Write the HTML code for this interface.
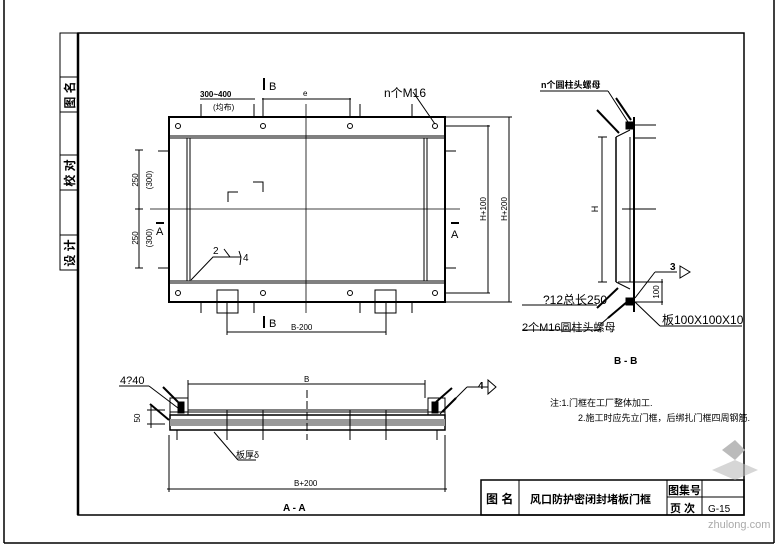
<!DOCTYPE html>
<html><head><meta charset="utf-8"><style>
html,body{margin:0;padding:0;background:#fff}
svg{display:block}
text{font-family:"Liberation Sans","Noto Sans CJK SC",sans-serif;fill:#000}
</style></head><body>
<svg width="780" height="550" viewBox="0 0 780 550" xmlns="http://www.w3.org/2000/svg" stroke="#000" fill="none">
<line x1="4" y1="0" x2="4" y2="543" stroke-width="1.5"/>
<line x1="4" y1="543" x2="774" y2="543" stroke-width="1.5"/>
<line x1="774" y1="0" x2="774" y2="543" stroke-width="1.5"/>
<rect x="78" y="33" width="666" height="482" stroke-width="1.5"/>
<line x1="78" y1="33" x2="78" y2="515" stroke-width="2.5"/>
<rect x="60" y="33" width="18" height="237" stroke-width="1"/>
<line x1="60" y1="77" x2="78" y2="77"/><line x1="60" y1="112" x2="78" y2="112"/>
<line x1="60" y1="155" x2="78" y2="155"/><line x1="60" y1="190" x2="78" y2="190"/>
<line x1="60" y1="235" x2="78" y2="235"/>
<g stroke="none" font-size="12" font-weight="bold">
<text transform="translate(74,95) rotate(-90)" text-anchor="middle">图 名</text>
<text transform="translate(74,173) rotate(-90)" text-anchor="middle">校 对</text>
<text transform="translate(74,253) rotate(-90)" text-anchor="middle">设 计</text>
</g>

<rect x="169" y="117" width="276" height="185" stroke-width="2"/>
<line x1="169" y1="136" x2="445" y2="136"/><line x1="169" y1="138" x2="445" y2="138"/>
<line x1="169" y1="281" x2="445" y2="281"/><line x1="169" y1="283" x2="445" y2="283"/>
<line x1="187" y1="138" x2="187" y2="281"/><line x1="190" y1="138" x2="190" y2="281"/>
<line x1="424" y1="138" x2="424" y2="281"/><line x1="427" y1="138" x2="427" y2="281"/>
<line x1="306" y1="104" x2="306" y2="313" stroke-width="0.8"/>
<line x1="150" y1="209" x2="460" y2="209" stroke-width="0.8"/>
<g stroke-width="1">
<circle cx="178" cy="126" r="2.5"/><circle cx="263" cy="126" r="2.5"/><circle cx="350" cy="126" r="2.5"/><circle cx="435" cy="126" r="2.5"/>
<circle cx="178" cy="293" r="2.5"/><circle cx="263" cy="293" r="2.5"/><circle cx="350" cy="293" r="2.5"/><circle cx="435" cy="293" r="2.5"/>
</g>
<rect x="217" y="290" width="21" height="23"/><rect x="375" y="290" width="21" height="23"/>
<g>
<line x1="201" y1="104" x2="201" y2="116"/><line x1="254" y1="104" x2="254" y2="116"/><line x1="263" y1="98" x2="263" y2="116"/><line x1="350" y1="98" x2="350" y2="116"/><line x1="360" y1="104" x2="360" y2="116"/><line x1="412" y1="104" x2="412" y2="116"/>
<line x1="201" y1="302" x2="201" y2="313"/><line x1="254" y1="302" x2="254" y2="313"/><line x1="360" y1="302" x2="360" y2="313"/><line x1="412" y1="302" x2="412" y2="313"/>
<line x1="158" y1="151" x2="169" y2="151"/><line x1="158" y1="268" x2="169" y2="268"/>
<line x1="445" y1="151" x2="456" y2="151"/><line x1="445" y1="268" x2="456" y2="268"/>
<line x1="445" y1="117" x2="512" y2="117"/><line x1="445" y1="302" x2="512" y2="302"/>
<line x1="445" y1="126" x2="490" y2="126"/><line x1="445" y1="293" x2="490" y2="293"/>
</g>
<line x1="200" y1="99" x2="255" y2="99"/>
<line x1="262" y1="99" x2="351" y2="99"/>
<line x1="139" y1="150" x2="139" y2="268"/>
<line x1="135" y1="150" x2="143" y2="150"/><line x1="135" y1="209" x2="143" y2="209"/><line x1="135" y1="268" x2="143" y2="268"/>
<line x1="227" y1="332" x2="386" y2="332"/>
<line x1="227" y1="302" x2="227" y2="335"/><line x1="386" y1="302" x2="386" y2="335"/>
<line x1="488" y1="125" x2="488" y2="293"/><line x1="509" y1="117" x2="509" y2="302"/>
<line x1="264" y1="78" x2="264" y2="90" stroke-width="2"/><line x1="264" y1="316" x2="264" y2="328" stroke-width="2"/>
<line x1="156" y1="223" x2="164" y2="223" stroke-width="2"/><line x1="451" y1="223" x2="459" y2="223" stroke-width="2"/>
<polyline points="228,202 228,192 238,192"/><polyline points="253,182 263,182 263,192" />
<polyline points="191,280 213,257 241,257"/><polyline points="224,249 230,257 224,257"/>
<polyline points="239,251 241,257 240,265"/>
<line x1="413" y1="92" x2="435" y2="124"/>
<g stroke="none">
<text x="200" y="97" font-size="8" font-weight="bold">300~400</text>
<text x="213" y="110" font-size="8">(均布)</text>
<text x="269" y="90" font-size="11">B</text>
<text x="269" y="327" font-size="11">B</text>
<text x="303" y="96" font-size="8">e</text>
<text x="384" y="97" font-size="12">n个M16</text>
<text x="291" y="330" font-size="8">B-200</text>
<text x="156" y="235" font-size="11">A</text>
<text x="451" y="238" font-size="11">A</text>
<text x="213" y="254" font-size="10">2</text>
<text x="243" y="261" font-size="10">4</text>
<text transform="translate(138,180) rotate(-90)" font-size="8" text-anchor="middle">250</text>
<text transform="translate(152,180) rotate(-90)" font-size="8" text-anchor="middle">(300)</text>
<text transform="translate(138,238) rotate(-90)" font-size="8" text-anchor="middle">250</text>
<text transform="translate(152,238) rotate(-90)" font-size="8" text-anchor="middle">(300)</text>
<text transform="translate(486,209) rotate(-90)" font-size="8" text-anchor="middle">H+100</text>
<text transform="translate(507,209) rotate(-90)" font-size="8" text-anchor="middle">H+200</text>
</g>

<line x1="634" y1="117" x2="634" y2="312" stroke-width="2"/>
<line x1="616" y1="137" x2="616" y2="282" stroke-width="1.5"/>
<line x1="630" y1="137" x2="630" y2="282"/>
<line x1="616" y1="137" x2="630" y2="130"/><line x1="616" y1="282" x2="630" y2="289"/>
<rect x="626" y="122" width="7" height="7" fill="#000"/><rect x="626" y="298" width="7" height="7" fill="#000"/>
<line x1="634" y1="125" x2="656" y2="125"/><line x1="634" y1="138" x2="656" y2="138"/>
<line x1="622" y1="209" x2="656" y2="209"/>
<line x1="602" y1="137" x2="602" y2="282"/><line x1="598" y1="137" x2="607" y2="137"/><line x1="598" y1="282" x2="607" y2="282"/>
<line x1="618" y1="282" x2="663" y2="282"/><line x1="634" y1="302" x2="663" y2="302"/><line x1="662" y1="279" x2="662" y2="305"/>
<line x1="608" y1="91" x2="628" y2="122" stroke-width="1"/>
<line x1="616" y1="98" x2="631" y2="120" stroke-width="2"/>
<line x1="597" y1="110" x2="619" y2="133" stroke-width="2"/>
<line x1="597" y1="308" x2="618" y2="288" stroke-width="2"/>
<line x1="608" y1="318" x2="627" y2="302" stroke-width="2"/>
<line x1="601" y1="324" x2="625" y2="303"/>
<line x1="635" y1="298" x2="655" y2="272"/><line x1="655" y1="272" x2="677" y2="272"/>
<polygon points="680,266 690,272 680,278"/>
<line x1="635" y1="302" x2="660" y2="326"/><line x1="660" y1="326" x2="742" y2="326"/>
<line x1="540" y1="91" x2="608" y2="91"/><line x1="522" y1="305" x2="597" y2="305"/><line x1="522" y1="330" x2="601" y2="330"/>
<g stroke="none">
<text x="541" y="88" font-size="9" font-weight="bold">n个圆柱头螺母</text>
<text transform="translate(598,209) rotate(-90)" font-size="9" text-anchor="middle">H</text>
<text x="670" y="270" font-size="10" font-weight="bold">3</text>
<text transform="translate(659,292) rotate(-90)" font-size="8" text-anchor="middle">100</text>
<text x="543" y="304" font-size="12">?12总长250</text>
<text x="522" y="331" font-size="11">2个M16圆柱头螺母</text>
<text x="662" y="324" font-size="12">板100X100X10</text>
<text x="614" y="364" font-size="10" font-weight="bold">B - B</text>
</g>

<rect x="170" y="415" width="275" height="15" stroke-width="1.5"/>
<rect x="170" y="419" width="275" height="7" fill="#999" stroke="none"/>
<line x1="170" y1="412" x2="445" y2="412"/>
<line x1="188" y1="415" x2="188" y2="398" /><line x1="428" y1="415" x2="428" y2="398"/>
<line x1="188" y1="410" x2="428" y2="410"/>
<rect x="170" y="398" width="18" height="17"/><rect x="428" y="398" width="17" height="17"/>
<rect x="178" y="402" width="6" height="11" fill="#000"/><rect x="432" y="402" width="6" height="11" fill="#000"/>
<line x1="307" y1="390" x2="307" y2="440" stroke-dasharray="8,3"/>
<line x1="177" y1="430" x2="177" y2="440"/><line x1="227" y1="410" x2="227" y2="440"/><line x1="263" y1="410" x2="263" y2="440"/><line x1="350" y1="410" x2="350" y2="440"/><line x1="386" y1="410" x2="386" y2="440"/><line x1="437" y1="430" x2="437" y2="440"/>
<line x1="188" y1="384" x2="425" y2="384"/><line x1="188" y1="380" x2="188" y2="398"/><line x1="425" y1="380" x2="425" y2="398"/>
<line x1="167" y1="489" x2="447" y2="489"/><line x1="169" y1="435" x2="169" y2="492"/><line x1="445" y1="435" x2="445" y2="492"/>
<line x1="147" y1="410" x2="165" y2="410"/><line x1="147" y1="424" x2="165" y2="424"/><line x1="151" y1="405" x2="151" y2="428"/>
<line x1="119" y1="386" x2="149" y2="386"/><line x1="149" y1="386" x2="178" y2="408"/>
<line x1="163" y1="387" x2="178" y2="402" stroke-width="2"/><line x1="150" y1="404" x2="169" y2="420" stroke-width="2"/>
<line x1="452" y1="388" x2="436" y2="402" stroke-width="2"/><line x1="456" y1="398" x2="442" y2="412" stroke-width="2"/>
<line x1="440" y1="414" x2="467" y2="387"/><line x1="467" y1="387" x2="488" y2="387"/><polygon points="488,380 496,387 488,394"/>
<line x1="214" y1="432" x2="238" y2="460"/><line x1="238" y1="460" x2="256" y2="460"/>
<g stroke="none">
<text x="120" y="384" font-size="11">4?40</text>
<text x="304" y="382" font-size="8">B</text>
<text transform="translate(140,418) rotate(-90)" font-size="8" text-anchor="middle">50</text>
<text x="236" y="458" font-size="9">板厚δ</text>
<text x="294" y="486" font-size="8">B+200</text>
<text x="283" y="511" font-size="10" font-weight="bold">A - A</text>
<text x="478" y="389" font-size="10" font-weight="bold">4</text>
<text x="550" y="406" font-size="9">注:1.门框在工厂整体加工.</text>
<text x="578" y="421" font-size="9">2.施工时应先立门框，后绑扎门框四周钢筋.</text>
</g>

<rect x="481" y="480" width="263" height="35" stroke-width="1.5"/>
<line x1="519" y1="480" x2="519" y2="515"/><line x1="667" y1="480" x2="667" y2="515"/><line x1="702" y1="480" x2="702" y2="515"/>
<line x1="667" y1="497" x2="744" y2="497"/>
<g stroke="none" font-weight="bold">
<text x="486" y="503" font-size="12">图 名</text>
<text x="530" y="503" font-size="11">风口防护密闭封堵板门框</text>
<text x="668" y="494" font-size="11">图集号</text>
<text x="670" y="512" font-size="11">页 次</text>
<text x="708" y="512" font-size="10" font-weight="normal">G-15</text>
</g>
<g stroke="none" fill="#bbb"><polygon points="722,450 735,460 745,450 735,440"/><polygon points="712,470 735,480 758,470 735,460" opacity="0.6"/></g>
<text x="708" y="528" font-size="11" stroke="none" style="fill:#aaa">zhulong.com</text>
</svg>
</body></html>
